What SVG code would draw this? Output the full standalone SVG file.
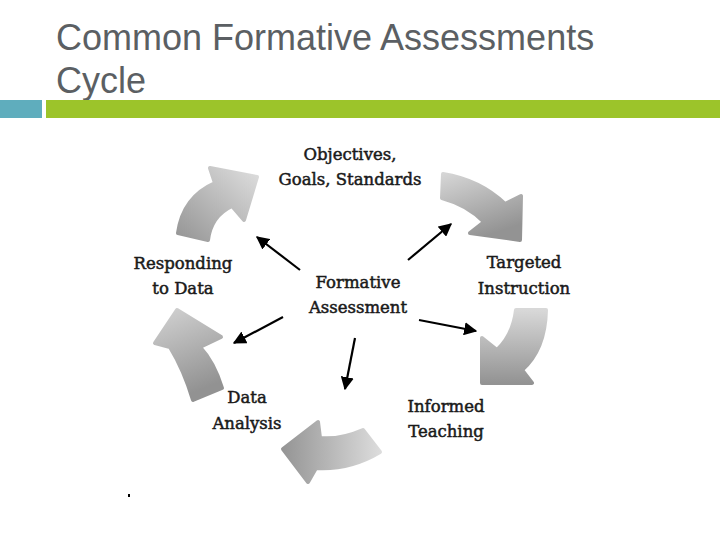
<svg xmlns="http://www.w3.org/2000/svg" width="720" height="540" viewBox="0 0 720 540">
<style>
.title{font-family:"Liberation Sans",Arial,sans-serif;font-size:36px;fill:#5b5f63}
.lbl{font-family:"DejaVu Serif","Liberation Serif",serif;font-size:16.5px;fill:#1a1a1a;stroke:#1a1a1a;stroke-width:0.5;text-anchor:middle}
.blk{stroke-linejoin:round;stroke-width:4}
.con{stroke:#000;stroke-width:2.2;fill:none;marker-end:url(#ah)}
</style>
<defs>
<marker id="ah" viewBox="0 0 10 10" refX="9" refY="5" markerWidth="6" markerHeight="6" orient="auto" markerUnits="strokeWidth">
<path d="M0,0 L10,5 L0,10 Z" fill="#000"/>
</marker>
<linearGradient id="g1" x1="0" y1="1" x2="1" y2="0"><stop offset="0" stop-color="#959595"/><stop offset="1" stop-color="#dedede"/></linearGradient>
<linearGradient id="g2" x1="0" y1="0" x2="0.4" y2="1"><stop offset="0" stop-color="#d6d6d6"/><stop offset="1" stop-color="#939393"/></linearGradient>
<linearGradient id="g3" x1="0" y1="0" x2="0" y2="1"><stop offset="0" stop-color="#d8d8d8"/><stop offset="1" stop-color="#939393"/></linearGradient>
<linearGradient id="g4" x1="0" y1="0" x2="1" y2="0"><stop offset="0" stop-color="#959595"/><stop offset="1" stop-color="#dcdcdc"/></linearGradient>
<linearGradient id="g5" x1="0" y1="0" x2="0.3" y2="1"><stop offset="0" stop-color="#d2d2d2"/><stop offset="1" stop-color="#929292"/></linearGradient>
</defs>
<rect width="720" height="540" fill="#fff"/>
<g id="header">
<text class="title" x="56" y="50">Common Formative Assessments</text>
<text class="title" x="56" y="93">Cycle</text>
<rect x="0" y="100" width="42" height="18" fill="#5fadbd"/>
<rect x="46" y="100" width="674" height="18" fill="#9cc42a"/>
</g>
<g id="cycle-arrows">
<path id="blk1" class="blk" fill="url(#g1)" stroke="url(#g1)" d="M178,233 Q183,197 215,183 L210,168 L257,177 L244,220 L232,206 Q211,216 208,240 Z"/>
<path id="blk2" class="blk" fill="url(#g2)" stroke="url(#g2)" d="M443,174 Q480,180 505,204 L521,196 L520,240 L470,233 L484,222 Q468,205 442,198 Z"/>
<path id="blk3" class="blk" fill="url(#g3)" stroke="url(#g3)" d="M516,310 L546,310 Q545,350 522,370 L532,383 L482,383 L482,338 L497,350 Q513,335 516,310 Z"/>
<path id="blk4" class="blk" fill="url(#g4)" stroke="url(#g4)" d="M363,430 L380,452 Q350,470 316,468 L308,482 L283,449 L318,422 L320,438 Q340,440 363,430 Z"/>
<path id="blk5" class="blk" fill="url(#g5)" stroke="url(#g5)" d="M193,400 L222,388 Q214,362 200,347 L221,337 L177,310 L155,343 L170,347 Q184,370 193,400 Z"/>
</g>
<g id="connectors">
<line class="con" x1="300" y1="270" x2="257" y2="237"/>
<line class="con" x1="408" y1="260" x2="451" y2="224"/>
<line class="con" x1="419" y1="320" x2="476" y2="331"/>
<line class="con" x1="355" y1="338" x2="345" y2="389"/>
<line class="con" x1="283" y1="317" x2="234" y2="343"/>
</g>
<g id="node-center"><text class="lbl" x="358" y="288">Formative</text><text class="lbl" x="358" y="313">Assessment</text></g>
<g id="node-objectives"><text class="lbl" x="350" y="160">Objectives,</text><text class="lbl" x="350" y="185">Goals, Standards</text></g>
<g id="node-targeted"><text class="lbl" x="524" y="268">Targeted</text><text class="lbl" x="524" y="294">Instruction</text></g>
<g id="node-informed"><text class="lbl" x="446" y="412">Informed</text><text class="lbl" x="446" y="437">Teaching</text></g>
<g id="node-data"><text class="lbl" x="247" y="403">Data</text><text class="lbl" x="247" y="429">Analysis</text></g>
<g id="node-responding"><text class="lbl" x="183" y="269">Responding</text><text class="lbl" x="183" y="294">to Data</text></g>
<rect x="128" y="494" width="2" height="3" fill="#000"/>
</svg>
